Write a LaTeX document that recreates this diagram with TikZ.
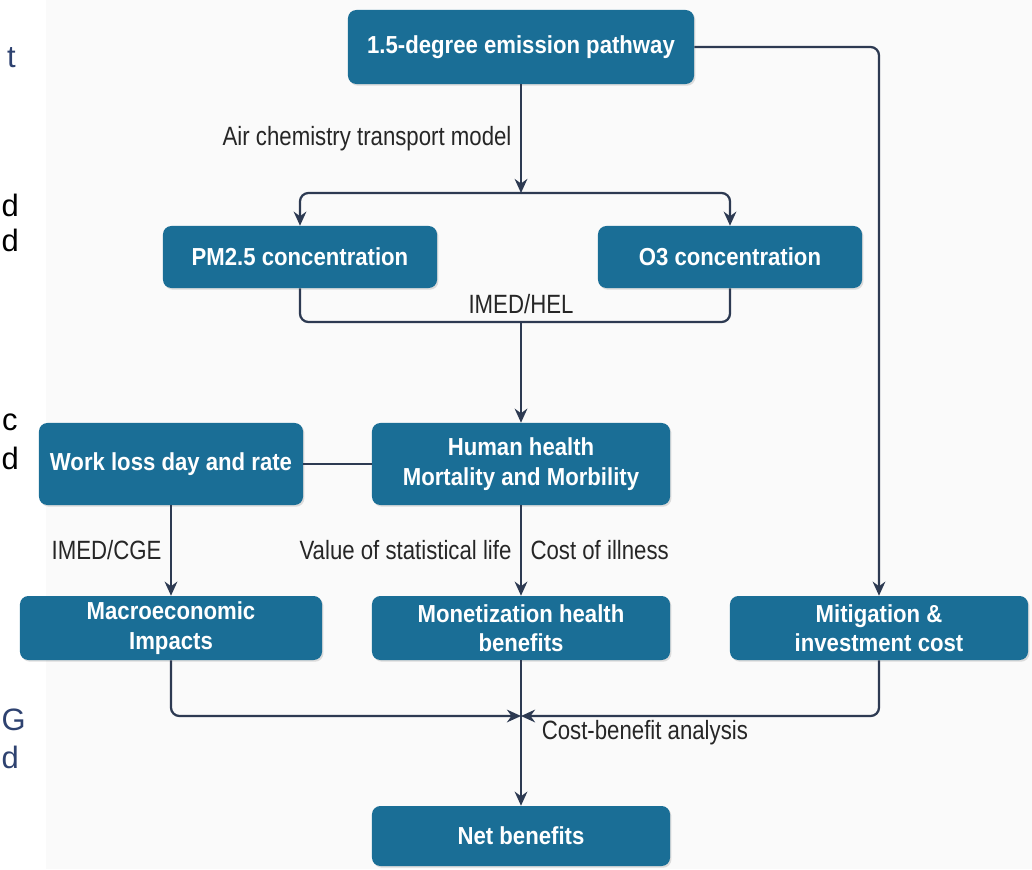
\documentclass[tikz,border=0pt]{standalone}
\usepackage{fontspec}
\setmainfont{Liberation Sans}
\newfontfamily\boxfont[FakeStretch=0.9]{Liberation Sans}
\newfontfamily\lblfont[FakeStretch=0.84]{Liberation Sans}
\usetikzlibrary{arrows.meta,positioning,shadows}
\definecolor{boxblue}{RGB}{26,110,150}
\definecolor{linenavy}{RGB}{45,58,82}
\definecolor{textnavy}{RGB}{46,66,112}
\tikzset{>={Stealth[length=10pt,width=9pt]},
  box/.style={draw=none,fill=boxblue,text=white,rounded corners=6pt,align=center,
    drop shadow={opacity=0.25,shadow xshift=1pt,shadow yshift=-1.2pt},
    font=\boxfont\bfseries\fontsize{17.5}{21}\selectfont},
  lbl/.style={font=\lblfont\fontsize{18.8}{21}\selectfont,text=black!85,inner sep=6pt},
  conn/.style={draw=linenavy,line width=1.6pt,rounded corners=6pt},
  frag/.style={font=\fontsize{22}{26}\selectfont,anchor=east,inner sep=0pt}}

\begin{document}
\begin{tikzpicture}[x=0.025cm,y=-0.025cm]
\useasboundingbox (0,0) rectangle (1032,869);
\fill[black!2] (46,0) rectangle (1032,869);

% cut-off words at the left edge
\node[frag,text=textnavy] (fa) at (16,58) {t};
\node[frag] (fb) at (19,205) {d};
\node[frag] (fc) at (19,240) {d};
\node[frag] (fd) at (18,422) {c};
\node[frag] (fe) at (19,458) {d};
\node[frag,text=textnavy] (ff) at (26,720) {G};
\node[frag,text=textnavy] (fg) at (19,757) {d};

% boxes
\node[box,minimum width=8.65cm,minimum height=1.85cm] (path) at (521,47) {1.5-degree emission pathway};
\node[box,minimum width=6.85cm,minimum height=1.55cm] (pm) at (300,257) {PM2.5 concentration};
\node[box,minimum width=6.6cm,minimum height=1.55cm] (ozone) at (730,257) {O3 concentration};
\node[box,minimum width=6.6cm,minimum height=2.05cm] (work) at (171,464) {Work loss day and rate};
\node[box,minimum width=7.45cm,minimum height=2.05cm] (health) at (521,464) {Human health\\Mortality and Morbility};
\node[box,minimum width=7.55cm,minimum height=1.6cm] (macro) at (171,628) {Macroeconomic\\Impacts};
\node[box,minimum width=7.45cm,minimum height=1.6cm] (money) at (521,628) {Monetization health\\benefits};
\node[box,minimum width=7.45cm,minimum height=1.6cm] (mitig) at (879,628) {Mitigation \&\\investment cost};
\node[box,minimum width=7.45cm,minimum height=1.5cm] (net) at (521,836) {Net benefits};

% junctions
\coordinate (fork) at (521,193);
\coordinate (join) at (521,322);
\coordinate (cba) at (521,716);

% connectors
\draw[conn,->] (path.south) -- node[lbl,left]{Air chemistry transport model} (fork);
\draw[conn,->] (fork) -| (pm.north);
\draw[conn,->] (fork) -| (ozone.north);
\draw[conn] (pm.south) |- (join) -| (ozone.south);
\node[lbl,above=0pt of join] (hel) {IMED/HEL};
\draw[conn,->] (join) -- (health.north);
\draw[conn,->] (path.east) -| (mitig.north);
\draw[conn] (work) -- (health);
\draw[conn,->] (work.south) -- node[lbl,left]{IMED/CGE} (macro.north);
\draw[conn,->] (health.south) -- node[lbl,left]{Value of statistical life}
  node[lbl,right]{Cost of illness} (money.north);
\draw[conn,->] (macro.south) |- (cba);
\draw[conn,->] (mitig.south) |- (cba);
\draw[conn,->] (money.south) -- node[lbl,right,xshift=8pt]{Cost-benefit analysis} (net.north);
\end{tikzpicture}
\end{document}
